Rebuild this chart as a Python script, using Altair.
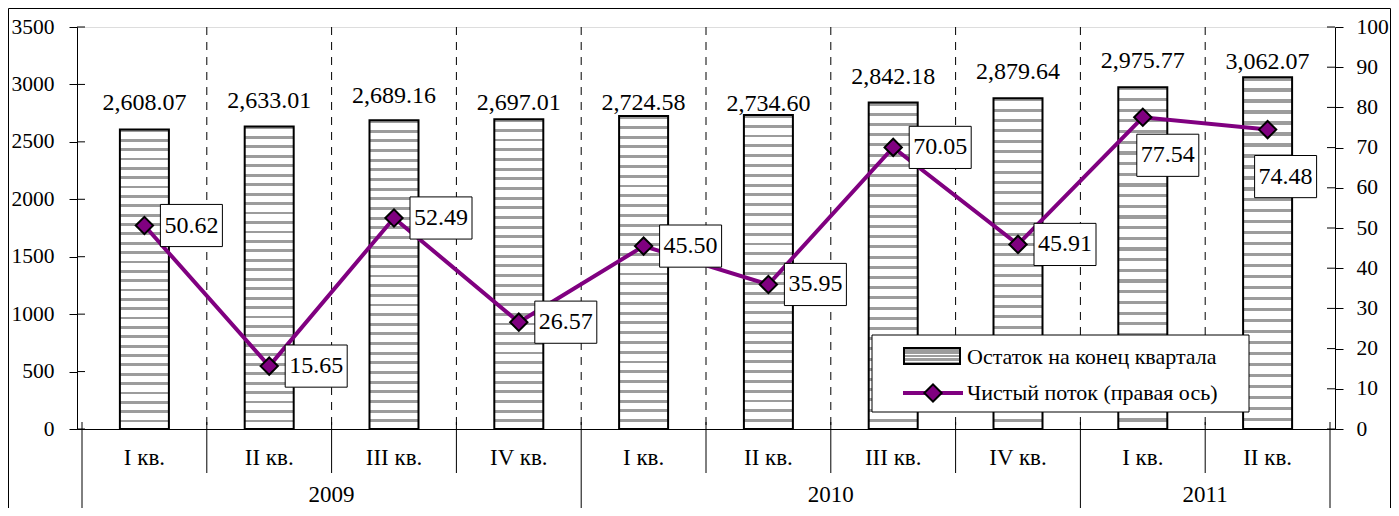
import altair as alt
import pandas as pd

# ---------------- data ----------------
quarters = ["I кв.", "II кв.", "III кв.", "IV кв.", "I кв.", "II кв.",
            "III кв.", "IV кв.", "I кв.", "II кв."]
years = ["2009", "2010", "2011"]
year_counts = [4, 4, 2]
balance = [2608.07, 2633.01, 2689.16, 2697.01, 2724.58, 2734.60,
           2842.18, 2879.64, 2975.77, 3062.07]
net_flow = [50.62, 15.65, 52.49, 26.57, 45.50, 35.95, 70.05, 45.91, 77.54, 74.48]
left_ticks = [0, 500, 1000, 1500, 2000, 2500, 3000, 3500]
right_ticks = [0, 10, 20, 30, 40, 50, 60, 70, 80, 90, 100]
legend_labels = ["Остаток на конец квартала", "Чистый поток (правая ось)"]

# ---------------- style ----------------
FONT = "Liberation Serif"
PURPLE = "#800080"
W, H = 1258, 402

n = len(quarters)
df = pd.DataFrame({"i": list(range(n)), "xc": [k + 0.5 for k in range(n)],
                   "q": quarters, "bal": balance, "flow": net_flow})

starts, acc = [], 0
for c in year_counts:
    starts.append(acc)
    acc += c
year_df = pd.DataFrame({"y": years,
                        "xc": [s + c / 2 for s, c in zip(starts, year_counts)]})
year_bounds = starts + [n]
inner_bounds = [b for b in range(1, n)]
quarter_bounds = [b for b in inner_bounds if b not in year_bounds]

one = pd.DataFrame({"k": [0]})

# stripe "hatch" gradient
N = 32
G = "#9c9c9c"
stops = []
for k in range(N):
    a, b, c = k / N, (k + 0.3) / N, (k + 1) / N
    stops += [{"offset": a, "color": G}, {"offset": b, "color": G},
              {"offset": b, "color": "#ffffff"}, {"offset": c, "color": "#ffffff"}]
hatch = {"gradient": "linear", "x1": 0, "y1": 0, "x2": 0, "y2": 1, "stops": stops}

xscale = alt.Scale(domain=[0, n], nice=False, zero=False)
xaxis = alt.Axis(labels=False, ticks=False, grid=False, title=None,
                 domainColor="#000000", domainWidth=1)
lscale = alt.Scale(domain=[0, 3500], nice=False)
laxis = alt.Axis(values=left_ticks, format="d", title=None, grid=False, tickSize=8,
                 tickColor="#000000", domainColor="#000000", labelPadding=15,
                 labelFont=FONT, labelFontSize=21.5, labelColor="#000000")
rscale = alt.Scale(domain=[0, 100], nice=False)
raxis = alt.Axis(values=right_ticks, format="d", title=None, grid=False, tickSize=8,
                 orient="right", tickColor="#000000", domainColor="#000000", labelPadding=13,
                 labelFont=FONT, labelFontSize=21.5, labelColor="#000000")

X = alt.X("xc:Q", scale=xscale, axis=xaxis)
YL = alt.Y("bal:Q", scale=lscale, axis=laxis)
YR = alt.Y("flow:Q", scale=rscale, axis=raxis)

base = alt.Chart(df)

bars = base.mark_bar(width=49, fill=hatch, stroke="#000000", strokeWidth=2).encode(x=X, y=YL)

# bar value labels; a few were nudged in the original
label_dy_special = {2: -17, 3: -9, 4: -6, 5: -4, 9: -8}
default_ids = [k for k in range(n) if k not in label_dy_special]


def bar_label(filt, dy):
    return base.transform_filter(filt).mark_text(
        dy=dy, baseline="alphabetic", font=FONT, fontSize=24, color="#000000").encode(
        x=X, y=YL, text=alt.Text("bal:Q", format=",.2f"))


bar_labels = [bar_label(alt.FieldOneOfPredicate(field="i", oneOf=default_ids), -19)]
for k, d in label_dy_special.items():
    bar_labels.append(bar_label(alt.datum.i == k, d))

lt_df = pd.DataFrame({"bal": left_ticks})
left_in = alt.Chart(lt_df).mark_rule(color="#000000").encode(
    y=YL, x=alt.value(0), x2=alt.value(8))

grid = alt.Chart(pd.DataFrame({"xc": inner_bounds})).mark_rule(
    strokeDash=[8, 7], color="#000000", strokeWidth=1).encode(
    x=X, y=alt.value(0), y2=alt.value(H))
qsep = alt.Chart(pd.DataFrame({"xc": quarter_bounds})).mark_rule(
    color="#000000", strokeWidth=1).encode(x=X, y=alt.value(H - 7), y2=alt.value(H + 44))
ysep = alt.Chart(pd.DataFrame({"xc": year_bounds})).mark_rule(
    color="#000000", strokeWidth=1).encode(x=X, y=alt.value(H - 7), y2=alt.value(H + 120))

qlabels = base.mark_text(font=FONT, fontSize=23, baseline="middle", color="#000000").encode(
    x=X, y=alt.value(H + 29), text="q:N")
ylabels = alt.Chart(year_df).mark_text(
    font=FONT, fontSize=23, baseline="middle", color="#000000").encode(
    x=X, y=alt.value(H + 66), text="y:N")

# outer frame (decorative)
frame = alt.Chart(one).mark_rect(fill="transparent", stroke="#000000", strokeWidth=1).encode(
    x=alt.value(-68.5), x2=alt.value(W + 55.5), y=alt.value(-18.5), y2=alt.value(H + 140))

# legend (drawn)
leg_box = alt.Chart(one).mark_rect(fill="#ffffff", stroke="#000000", strokeWidth=1).encode(
    x=alt.value(795), x2=alt.value(1172), y=alt.value(308), y2=alt.value(385))
leg_swatch = alt.Chart(one).mark_rect(fill=hatch, stroke="#000000", strokeWidth=2).encode(
    x=alt.value(827), x2=alt.value(883), y=alt.value(321), y2=alt.value(337))
leg_line = alt.Chart(one).mark_rule(color=PURPLE, strokeWidth=4).encode(
    x=alt.value(826), x2=alt.value(886), y=alt.value(366))
leg_pt = alt.Chart(one).mark_point(shape="diamond", size=300, filled=True, fill=PURPLE,
                                   stroke="#000000", strokeWidth=2, opacity=1).encode(
    x=alt.value(856), y=alt.value(366))
leg_t1 = alt.Chart(one).mark_text(text=legend_labels[0], font=FONT, fontSize=22, align="left",
                                  baseline="middle", color="#000000").encode(
    x=alt.value(890), y=alt.value(330))
leg_t2 = alt.Chart(one).mark_text(text=legend_labels[1], font=FONT, fontSize=22, align="left",
                                  baseline="middle", color="#000000").encode(
    x=alt.value(890), y=alt.value(366))

left_group = alt.layer(frame, grid, qsep, ysep, bars, *bar_labels, left_in, qlabels, ylabels,
                       leg_box, leg_swatch, leg_line, leg_pt, leg_t1, leg_t2)

# right-axis group
rt_df = pd.DataFrame({"flow": right_ticks})
right_in = alt.Chart(rt_df).mark_rule(color="#000000").encode(
    y=YR, x=alt.value(W - 8), x2=alt.value(W))
line = base.mark_line(color=PURPLE, strokeWidth=4).encode(x=X, y=YR)
pts = base.mark_point(shape="diamond", size=300, filled=True, fill=PURPLE, stroke="#000000",
                      strokeWidth=2, opacity=1).encode(x=X, y=YR)

BOX = "M-1,-0.68L1,-0.68L1,0.68L-1,0.68Z"


def box_layers(filt, dx, dy):
    sub = base.transform_filter(filt)
    b = sub.mark_point(shape=BOX, size=62 * 62, filled=True, fill="#ffffff", stroke="#000000",
                       strokeWidth=1, opacity=1, xOffset=dx, yOffset=dy).encode(x=X, y=YR)
    t = sub.mark_text(dx=dx, dy=dy, font=FONT, fontSize=24, baseline="middle",
                      color="#000000").encode(x=X, y=YR, text=alt.Text("flow:Q", format=".2f"))
    return [b, t]


boxes = (box_layers(alt.datum.i < 8, 47, 0) + box_layers(alt.datum.i == 8, 25, 38)
         + box_layers(alt.datum.i == 9, 18, 47))

right_group = alt.layer(right_in, line, pts, *boxes)

chart = alt.layer(left_group, right_group).resolve_scale(y="independent").properties(
    width=W, height=H, autosize="none",
    padding={"left": 69, "top": 19, "right": 56, "bottom": 79},
).configure_view(stroke=None).configure(background="#ffffff")

chart.save("out.html", embed_options={"renderer": "svg", "actions": False})
